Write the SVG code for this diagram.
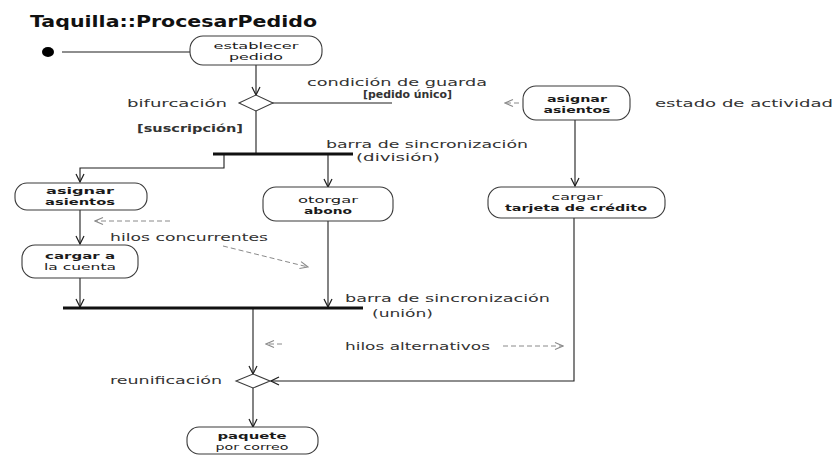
<svg xmlns="http://www.w3.org/2000/svg" width="835" height="455" viewBox="0 0 835 455">
  <defs>
    <style>
      .node rect { fill: #ffffff; stroke: #3a3a3a; stroke-width: 1.1; }
      .nt { font-family: "DejaVu Sans", "Liberation Sans", sans-serif; font-size: 9.5px; fill: #1a1a1a; text-anchor: middle; }
      .nb { font-weight: bold; }
      .lbl { font-family: "DejaVu Sans", "Liberation Sans", sans-serif; font-size: 11px; fill: #333333; }
      .flow { fill: none; stroke: #1e1e1e; stroke-width: 1.1; }
      .note { fill: none; stroke: #8a8a8a; stroke-width: 1; stroke-dasharray: 5 3; }
      .bar { fill: #111111; }
      .dia { fill: #ffffff; stroke: #3a3a3a; stroke-width: 1.1; }
    </style>
    <marker id="arr" markerWidth="10" markerHeight="10" refX="9" refY="5" orient="auto" markerUnits="userSpaceOnUse">
      <path d="M1,1 L9,5 L1,9" fill="none" stroke="#1e1e1e" stroke-width="1.2"/>
    </marker>
    <marker id="arrN" markerWidth="10" markerHeight="10" refX="9" refY="5" orient="auto" markerUnits="userSpaceOnUse">
      <path d="M1,1.5 L9,5 L1,8.5" fill="none" stroke="#8a8a8a" stroke-width="1.1"/>
    </marker>
  </defs>

  <rect width="835" height="455" fill="#ffffff"/>

  <!-- title -->
  <text x="30" y="27" font-family="DejaVu Sans, Liberation Sans, sans-serif" font-size="15" font-weight="bold" fill="#111" textLength="287" lengthAdjust="spacingAndGlyphs">Taquilla::ProcesarPedido</text>

  <!-- connectors -->
  <g id="connectors">
    <line class="flow" x1="62" y1="52" x2="190" y2="52"/>
    <line class="flow" x1="256" y1="65" x2="256" y2="95" marker-end="url(#arr)"/>
    <line class="flow" x1="272" y1="103" x2="392" y2="103"/>
    <line class="flow" x1="256" y1="111" x2="256" y2="153"/>
    <polyline class="flow" points="224,155 224,168 80,168 80,182" marker-end="url(#arr)"/>
    <line class="flow" x1="328" y1="155" x2="328" y2="187" marker-end="url(#arr)"/>
    <line class="flow" x1="80" y1="210" x2="80" y2="244" marker-end="url(#arr)"/>
    <line class="flow" x1="80" y1="278" x2="80" y2="307" marker-end="url(#arr)"/>
    <line class="flow" x1="328" y1="221" x2="328" y2="307" marker-end="url(#arr)"/>
    <line class="flow" x1="253" y1="309" x2="253" y2="374" marker-end="url(#arr)"/>
    <line class="flow" x1="253" y1="388" x2="253" y2="427" marker-end="url(#arr)"/>
    <line class="flow" x1="575" y1="120" x2="575" y2="186" marker-end="url(#arr)"/>
    <polyline class="flow" points="574,218 574,381 271,381" marker-end="url(#arr)"/>

    <!-- annotation pointers -->
    <line class="note" x1="170" y1="221" x2="95" y2="221" marker-end="url(#arrN)"/>
    <line class="note" x1="223" y1="246" x2="308" y2="267" marker-end="url(#arrN)"/>
    <line class="note" x1="282" y1="344" x2="266" y2="344" marker-end="url(#arrN)"/>
    <line class="note" x1="503" y1="346" x2="563" y2="346" marker-end="url(#arrN)"/>
    <line class="note" x1="519" y1="103" x2="505" y2="103" marker-end="url(#arrN)"/>
  </g>

  <!-- initial state -->
  <g id="inicio">
    <ellipse cx="48" cy="52" rx="6" ry="5" fill="#000"/>
  </g>

  <g id="establecer-pedido" class="node">
    <rect x="190" y="36" width="132" height="29" rx="13"/>
    <text class="nt" x="256" y="49" textLength="85" lengthAdjust="spacingAndGlyphs">establecer</text>
    <text class="nt" x="256" y="60" textLength="54" lengthAdjust="spacingAndGlyphs">pedido</text>
  </g>

  <g id="bifurcacion">
    <polygon class="dia" points="239,103 256,95 273,103 256,111"/>
  </g>

  <g id="division">
    <rect class="bar" x="213" y="152.5" width="140" height="3"/>
  </g>

  <g id="asignar-asientos-1" class="node">
    <rect x="15" y="183" width="132" height="27" rx="12"/>
    <text class="nt nb" x="80" y="194" textLength="68" lengthAdjust="spacingAndGlyphs">asignar</text>
    <text class="nt nb" x="80" y="205" textLength="70" lengthAdjust="spacingAndGlyphs">asientos</text>
  </g>

  <g id="otorgar-abono" class="node">
    <rect x="263" y="187" width="130" height="34" rx="13"/>
    <text class="nt" x="328" y="203" textLength="60" lengthAdjust="spacingAndGlyphs">otorgar</text>
    <text class="nt nb" x="328" y="214" textLength="48" lengthAdjust="spacingAndGlyphs">abono</text>
  </g>

  <g id="cargar-cuenta" class="node">
    <rect x="22" y="245" width="116" height="33" rx="13"/>
    <text class="nt nb" x="80" y="259" textLength="70" lengthAdjust="spacingAndGlyphs">cargar a</text>
    <text class="nt" x="80" y="270" textLength="72" lengthAdjust="spacingAndGlyphs">la cuenta</text>
  </g>

  <g id="union">
    <rect class="bar" x="63" y="306.5" width="300" height="3"/>
  </g>

  <g id="reunificacion">
    <polygon class="dia" points="236,381 253,374 270,381 253,388"/>
  </g>

  <g id="paquete-correo" class="node">
    <rect x="187" y="427" width="131" height="27" rx="12"/>
    <text class="nt nb" x="252" y="439" textLength="69" lengthAdjust="spacingAndGlyphs">paquete</text>
    <text class="nt" x="252" y="450" textLength="73" lengthAdjust="spacingAndGlyphs">por correo</text>
  </g>

  <g id="asignar-asientos-2" class="node">
    <rect x="523" y="86" width="107" height="34" rx="13"/>
    <text class="nt nb" x="577" y="102" textLength="60" lengthAdjust="spacingAndGlyphs">asignar</text>
    <text class="nt nb" x="577" y="113" textLength="67" lengthAdjust="spacingAndGlyphs">asientos</text>
  </g>

  <g id="cargar-tarjeta" class="node">
    <rect x="488" y="187" width="177" height="31" rx="13"/>
    <text class="nt" x="577" y="200" textLength="51" lengthAdjust="spacingAndGlyphs">cargar</text>
    <text class="nt nb" x="576" y="211" textLength="142" lengthAdjust="spacingAndGlyphs">tarjeta de crédito</text>
  </g>

  <!-- labels -->
  <g id="etiquetas">
    <text class="lbl" x="307" y="86" textLength="180" lengthAdjust="spacingAndGlyphs">condición de guarda</text>
    <text class="lbl" x="363" y="98" font-weight="bold" textLength="89" lengthAdjust="spacingAndGlyphs">[pedido único]</text>
    <text class="lbl" x="127" y="107" textLength="100" lengthAdjust="spacingAndGlyphs">bifurcación</text>
    <text class="lbl" x="137" y="132" font-weight="bold" textLength="106" lengthAdjust="spacingAndGlyphs">[suscripción]</text>
    <text class="lbl" x="326" y="148" textLength="202" lengthAdjust="spacingAndGlyphs">barra de sincronización</text>
    <text class="lbl" x="356" y="161" textLength="84" lengthAdjust="spacingAndGlyphs">(división)</text>
    <text class="lbl" x="110" y="241" textLength="158" lengthAdjust="spacingAndGlyphs">hilos concurrentes</text>
    <text class="lbl" x="345" y="302" textLength="205" lengthAdjust="spacingAndGlyphs">barra de sincronización</text>
    <text class="lbl" x="372" y="317" textLength="61" lengthAdjust="spacingAndGlyphs">(unión)</text>
    <text class="lbl" x="345" y="350" textLength="145" lengthAdjust="spacingAndGlyphs">hilos alternativos</text>
    <text class="lbl" x="110" y="384" textLength="112" lengthAdjust="spacingAndGlyphs">reunificación</text>
    <text class="lbl" x="655" y="107" textLength="178" lengthAdjust="spacingAndGlyphs">estado de actividad</text>
  </g>
</svg>
